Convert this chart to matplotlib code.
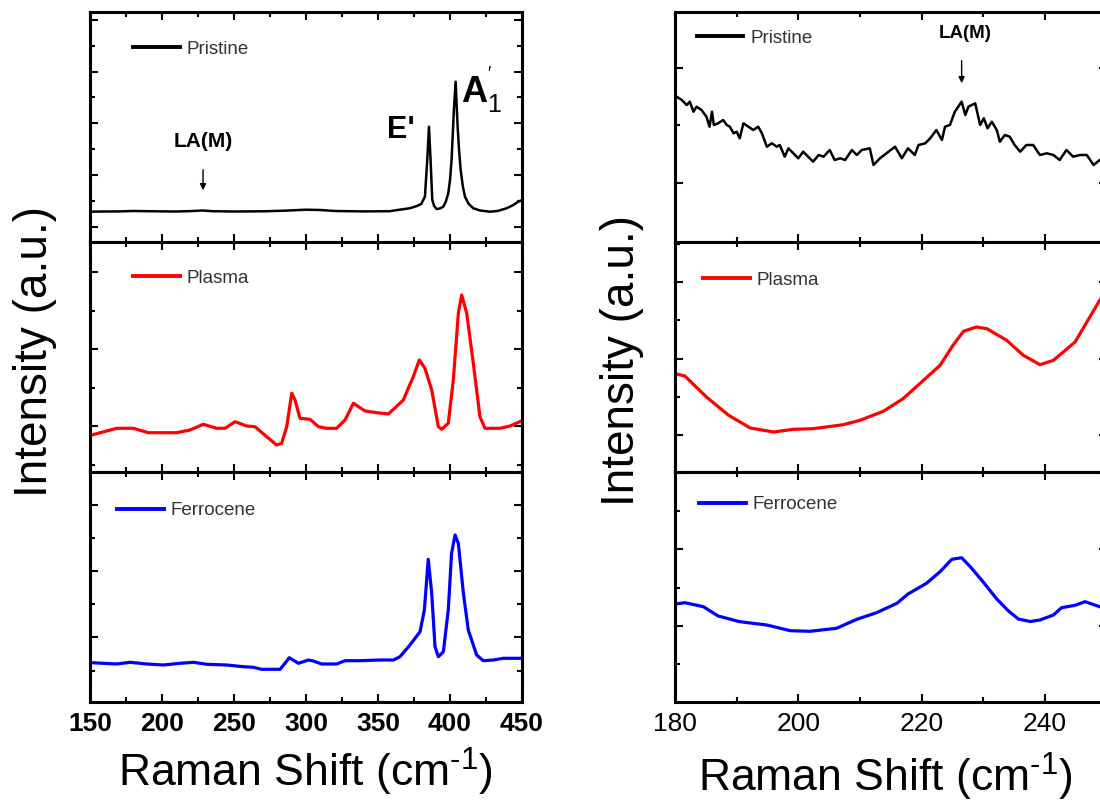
import matplotlib
matplotlib.use("Agg")
import matplotlib.pyplot as plt
import numpy as np

plt.rcParams['font.family'] = ['Liberation Sans', 'DejaVu Sans']
plt.rcParams['mathtext.fontset'] = 'custom'
plt.rcParams['mathtext.rm'] = 'Liberation Sans'
plt.rcParams['mathtext.bf'] = 'Liberation Sans:bold'
plt.rcParams['mathtext.default'] = 'regular'

# ---- data (Raman shift cm-1, intensity a.u.) ----
pristine_full = [(150, 28.3), (160, 28.5), (170, 28.6), (180, 29.0), (190, 28.8), (200, 28.6),
                 (210, 28.5), (220, 28.9), (228, 29.5), (235, 28.8), (250, 28.5), (270, 28.7),
                 (285, 29.3), (300, 30.3), (310, 30.0), (320, 29.0), (340, 28.6), (358, 28.8),
                 (366, 30.5), (372, 31.7), (377, 34), (380, 36), (382.6, 43.3), (384.2, 80),
                 (385.4, 113.3), (386.5, 80), (387.7, 40), (389, 34), (390.7, 31), (393, 31.5),
                 (395.3, 33.3), (397, 38), (398.8, 46.7), (400, 60), (401.1, 80), (402.7, 130),
                 (403.9, 158.3), (405.3, 113.3), (406.3, 90), (407.4, 70), (409, 53), (410.4, 43.3),
                 (413, 36), (416.2, 31.7), (421, 29.5), (427.8, 28.3), (433, 29), (439.3, 31.7),
                 (444, 35), (447.4, 38.3), (450, 40)]

plasma_full = [(150, 37), (151.2, 37), (168.5, 43.7), (180.1, 43.7), (190.5, 39.3), (210.2, 39.3),
               (219.4, 42), (228.7, 47.7), (238, 43.7), (243.8, 43.7), (250.7, 50.3), (258.8, 46),
               (264.6, 45.3), (272.7, 35.3), (279.6, 27), (283.1, 28.7), (286.6, 45.3),
               (290.1, 78.7), (292.4, 72), (295.8, 53.7), (302.8, 52.7), (308.6, 45.3),
               (314.4, 43.7), (321.3, 43.7), (327.1, 52), (332.9, 68.7), (341, 61), (349.1, 59.3),
               (357.2, 58), (367.6, 72), (374.5, 95.3), (378.7, 112), (382.6, 103.7), (387.3, 82),
               (391.9, 45.3), (394.2, 42.7), (398.8, 48.7), (402.3, 92), (405.8, 158.7),
               (408.1, 177), (411.6, 158.7), (416.2, 108.7), (420.8, 55.3), (424.3, 43.7),
               (434.7, 43.7), (441.7, 46), (450, 51.3)]

ferrocene_full = [(150, 39.3), (151.2, 39.3), (168.5, 38), (177.8, 39.7), (189.4, 38), (200.9, 37),
                  (212.5, 38.7), (221.8, 39.7), (231, 37.7), (244.9, 37), (256.5, 35.3),
                  (263.4, 34.7), (269.2, 32.7), (282, 32.7), (285.4, 38.7), (288.4, 44.3),
                  (294.7, 38.7), (301.6, 42), (305.1, 41), (310.9, 38), (321.3, 38), (327.1, 41.3),
                  (337.5, 41.3), (351.4, 42), (360.7, 42), (365.3, 45.3), (372.2, 57), (379.2, 70.3),
                  (382.2, 92), (384.9, 142.7), (387.3, 108.7), (389.6, 55.3), (391.9, 45.3),
                  (395.4, 50.3), (398.8, 92), (401.1, 148.7), (403.5, 167), (405.8, 158.7),
                  (409.3, 108.7), (412.7, 72), (418.5, 47), (423.1, 41.3), (430.1, 42), (437, 43.7),
                  (450, 43.7)]

pristine_zoom = [(180.0, 143.5), (180.27, 143.3), (181.1, 140), (181.9, 135), (182.4, 138.3),
                 (183, 128.3), (183.5, 133.3), (184.3, 130), (185.1, 123.3), (185.6, 113.3),
                 (186, 128.3), (186.3, 115), (187, 116.7), (187.8, 120), (188.4, 115),
                 (188.9, 113.3), (189.5, 106.7), (190, 108.3), (190.5, 101.7), (191.1, 116.7),
                 (191.9, 113.3), (192.7, 110), (193.5, 113.3), (194.1, 106.7), (194.9, 93.3),
                 (195.7, 96.7), (196.5, 93.3), (197, 95), (197.8, 83.3), (198.4, 91.7),
                 (199.2, 86.7), (200, 81.7), (200.8, 88.3), (201.6, 83.3), (202.4, 78.3),
                 (203.3, 85), (204.1, 83.3), (205.1, 90), (205.9, 80), (206.8, 81.7), (207.6, 80),
                 (208.7, 90), (209.5, 85), (210.3, 90), (211.6, 91.7), (212.2, 75), (213.25, 81.7),
                 (214.3, 86.7), (215.7, 93.3), (216.8, 81.7), (217.8, 91.7), (218.9, 85),
                 (219.5, 95), (220.6, 96.7), (221.4, 101.7), (222.4, 110), (223.3, 100),
                 (223.8, 113.3), (224.6, 115), (225.4, 128.3), (226.5, 138.3), (227.1, 125),
                 (227.6, 133.3), (228.7, 136.7), (229.5, 115), (230.1, 121.7), (230.7, 111.7),
                 (231.4, 118.3), (232.2, 110), (232.7, 98.3), (233.5, 105), (234.3, 103.3),
                 (235.1, 95), (236, 88.3), (237, 95), (238.1, 95), (239.2, 85), (240.3, 86.7),
                 (241.4, 85), (242.4, 80), (243.5, 90), (244.6, 83.3), (245.7, 85), (246.8, 85),
                 (247.9, 75), (248.9, 80), (250, 82)]

plasma_zoom = [(180, 98.3), (181.6, 96), (185.1, 75), (188.7, 56.7), (192.2, 44), (196, 40),
               (199.2, 42.7), (202.4, 43.3), (207.3, 47.3), (210, 51.7), (213.8, 60.7), (217, 73.3),
               (219.7, 88.3), (223, 106.7), (225.1, 126.7), (226.8, 140.7), (228.9, 145),
               (230.6, 143.3), (233.8, 131.7), (236.5, 116.7), (239.2, 107.3), (241.4, 111.7),
               (244.9, 130), (247.3, 155), (248.9, 171.7), (250, 182)]

ferrocene_zoom = [(180, 98), (181.6, 99.3), (184.6, 95.3), (187, 86), (190.5, 80.3), (194.9, 77),
                  (198.7, 71.3), (201.9, 70.7), (206.2, 73.7), (209.5, 82.7), (212.7, 89.3),
                  (216, 98.7), (217.8, 108), (220.8, 118.7), (223, 130.3), (224.9, 142.7),
                  (226.5, 144.3), (227.9, 135.3), (230, 120), (232.2, 103), (234.1, 91),
                  (235.7, 83), (237.6, 80.5), (239.2, 82), (241.4, 87), (242.7, 94.3), (244.9, 96.7),
                  (246.5, 100.3), (248.9, 95.3), (250, 93)]

names = ["Pristine", "Plasma", "Ferrocene"]
colors = ["black", "#ff0000", "#0000ff"]
widths = [1.8, 2.3, 2.3]

fig = plt.figure(figsize=(11, 8.01), dpi=100)
W, H = 1100.0, 801.0

# rows: (top px, bottom px, ylim bottom)
rows = [(12, 242, -2), (242, 472, 0), (472, 702, 0)]
cols = [(90, 432, 150, 450, 50, 25), (675, 431.5, 180, 250, 20, 10)]

# y tick positions per panel (major, minor) in a.u.
yt_left = [(np.arange(13.3, 228, 51.7), np.arange(39.1, 228, 51.7)),
           (np.arange(46, 230, 77), np.arange(7, 230, 77)),
           (np.arange(64.7, 230, 66.3), np.arange(31.5, 230, 66.3))]
yt_right = [(np.array([57.5, 172.5]), np.array([115.0])),
            (np.arange(36.7, 230, 76.7), np.arange(75, 230, 76.7)),
            (np.arange(76.3, 230, 76.4), np.arange(38, 230, 76.4))]

legend_pos = [[(0.099, 0.838), (0.099, 0.843), (0.062, 0.832)],
              [(0.050, 0.885), (0.065, 0.835), (0.055, 0.857)]]

series = [[pristine_full, plasma_full, ferrocene_full],
          [pristine_zoom, plasma_zoom, ferrocene_zoom]]

axes = {}
for c, (x0, wpx, xmin, xmax, maj, mnr) in enumerate(cols):
    for r, (t, b, y0) in enumerate(rows):
        ax = fig.add_axes([x0 / W, (H - b) / H, wpx / W, (b - t) / H])
        axes[(c, r)] = ax
        data = series[c][r]
        xs = [p[0] for p in data]
        ys = [p[1] for p in data]
        ax.plot(xs, ys, color=colors[r], lw=widths[r], label=names[r])
        ax.set_xlim(xmin, xmax)
        ax.set_ylim(y0, y0 + b - t)
        ax.set_xticks(np.arange(xmin, xmax + 0.1, maj))
        ax.set_xticks(np.arange(xmin, xmax + 0.1, mnr), minor=True)
        yt = yt_left[r] if c == 0 else yt_right[r]
        ax.set_yticks(yt[0])
        ax.set_yticks(yt[1], minor=True)
        ax.set_yticklabels([])
        ax.tick_params(which='both', direction='in', top=True, right=True, width=1.5)
        ax.tick_params(which='major', length=6)
        ax.tick_params(which='minor', length=3.5)
        for s in ax.spines.values():
            s.set_linewidth(2.2)
        if r < 2:
            ax.set_xticklabels([])
        else:
            ax.tick_params(axis='x', labelsize=19, pad=7)
            if c == 0:
                for lab in ax.get_xticklabels():
                    lab.set_fontweight('bold')
        leg = ax.legend(loc='center left', bbox_to_anchor=legend_pos[c][r], frameon=False,
                        borderpad=0, borderaxespad=0, handlelength=2.5, handletextpad=0.35,
                        fontsize=13.5)
        for line in leg.get_lines():
            line.set_linewidth(2.8)
        for txt in leg.get_texts():
            txt.set_color('#333333')

# annotations
a = axes[(0, 0)]
a.text(228.5, 98.3, "LA(M)", ha='center', va='center', fontsize=15, fontweight='bold')
a.annotate('', xy=(228.5, 47), xytext=(228.5, 73),
           arrowprops=dict(arrowstyle='-|>', color='k', lw=1.0, mutation_scale=9))
a.text(365.5, 110, "E'", ha='center', va='center', fontsize=22, fontweight='bold')
a.text(422, 150, r"$\mathbf{A}_{1}^{'}$", ha='center', va='center', fontsize=26)

a = axes[(1, 0)]
a.text(227, 207, "LA(M)", ha='center', va='center', fontsize=13.5, fontweight='bold')
a.annotate('', xy=(226.5, 154), xytext=(226.5, 182),
           arrowprops=dict(arrowstyle='-|>', color='k', lw=1.0, mutation_scale=9))

# axis labels
fig.text(35 / W, 1 - 352 / H, "Intensity (a.u.)", rotation=90, ha='center', va='center', fontsize=33)
fig.text(622 / W, 1 - 360 / H, "Intensity (a.u.)", rotation=90, ha='center', va='center', fontsize=33)
fig.text(305 / W, 1 - 772 / H, r"Raman Shift (cm$^{\text{-1}}$)", ha='center', va='center', fontsize=32)
fig.text(885 / W, 1 - 777 / H, r"Raman Shift (cm$^{\text{-1}}$)", ha='center', va='center', fontsize=32)

fig.savefig("out.png", dpi=100)
